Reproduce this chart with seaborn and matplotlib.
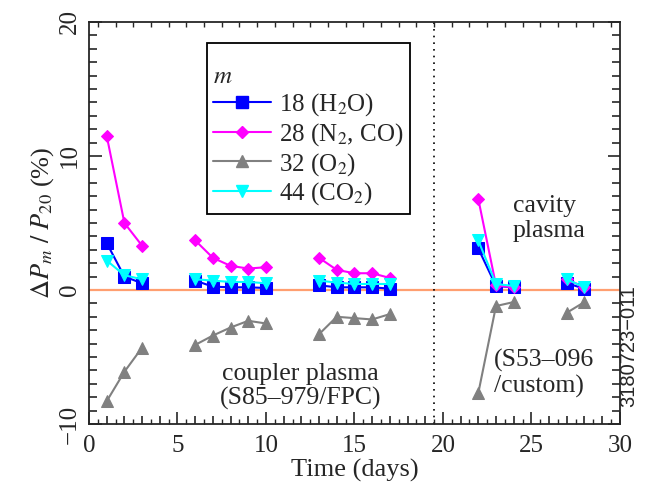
import pandas as pd
import numpy as np
import matplotlib.pyplot as plt
import seaborn as sb
from matplotlib.ticker import MultipleLocator, FixedLocator

# Days of each measurement, grouped into the plasma runs
days = [1, 2, 3, 6, 7, 8, 9, 10, 13, 14, 15, 16, 17, 22, 23, 24, 27, 28]
run = [1, 1, 1, 2, 2, 2, 2, 2, 3, 3, 3, 3, 3, 4, 4, 4, 5, 5]

# Relative pressure change (%) for each mass
h2o = [3.5, 1.0, 0.5, 0.7, 0.25, 0.2, 0.2, 0.15, 0.35, 0.2, 0.2, 0.2, 0.1, 3.1, 0.3, 0.2, 0.5, 0.1]
n2co = [11.5, 5.0, 3.3, 3.7, 2.4, 1.8, 1.6, 1.7, 2.4, 1.5, 1.25, 1.25, 0.9, 6.8, 0.35, 0.2, 0.8, 0.2]
o2 = [-8.3, -6.1, -4.3, -4.1, -3.4, -2.8, -2.3, -2.5, -3.3, -2.0, -2.1, -2.2, -1.8, -7.7, -1.2, -0.9, -1.7, -0.9]
co2 = [2.2, 1.1, 0.8, 0.8, 0.7, 0.6, 0.6, 0.5, 0.7, 0.55, 0.45, 0.45, 0.45, 3.7, 0.45, 0.3, 0.8, 0.2]

labels = ['18 (H$_2$O)', '28 (N$_2$, CO)', '32 (O$_2$)', '44 (CO$_2$)']
clrs = ['#0000ff', '#ff00ff', '#808080', '#00ffff']
mkrs = ['s', 'D', '^', 'v']
msizes = [8, 6, 8, 8]

df = pd.concat([pd.DataFrame({'day': days, 'run': run, 'val': v, 'gas': lab})
                for v, lab in zip([h2o, n2co, o2, co2], labels)])

sb.set_theme(style='ticks')
plt.rcParams['font.family'] = ['Liberation Serif', 'DejaVu Serif']
plt.rcParams['mathtext.fontset'] = 'stix'

fig = plt.figure(figsize=(6.47, 4.91), dpi=100)
ax = fig.add_axes([0.1376, 0.1365, 0.8204, 0.8187])

ax.axhline(0, color='#ff9f70', lw=1.6, zorder=1)
ax.axvline(19.5, color='black', lw=1.2, ls=(0, (1, 3)), zorder=1)

# one line per gas and run
for lab, c, mk, ms in zip(labels, clrs, mkrs, msizes):
    sub = df[df.gas == lab]
    for r, seg in sub.groupby('run'):
        sb.lineplot(data=seg, x='day', y='val', color=c, marker=mk, markersize=ms,
                    markeredgecolor=c, lw=1.5, ax=ax, legend=False, zorder=3)

handles = [plt.Line2D([], [], color=c, marker=mk, markersize=ms, lw=1.5)
           for c, mk, ms in zip(clrs, mkrs, msizes)]
leg = ax.legend(handles, labels, title=' \n$m$', loc='upper left', bbox_to_anchor=(0.222, 0.948),
                frameon=True, fancybox=False, edgecolor='black', framealpha=1,
                handlelength=2.3, fontsize=18, title_fontsize=18, borderpad=0.25,
                labelspacing=0.12, handletextpad=0.35, borderaxespad=0, alignment='left')
leg.get_title().set_linespacing(0.7)
leg.get_frame().set_linewidth(1.3)

ax.set_xlim(0, 30)
ax.set_ylim(-10, 20)
ax.xaxis.set_major_locator(MultipleLocator(5))
ax.xaxis.set_minor_locator(MultipleLocator(1))
ax.yaxis.set_major_locator(MultipleLocator(10))
ax.yaxis.set_minor_locator(MultipleLocator(1))
ax.tick_params(which='both', direction='in', top=True, right=True, width=1.2, labelsize=18)
ax.tick_params(axis='x', pad=8)
ax.tick_params(axis='y', pad=6)
ax.tick_params(which='major', length=9)
ax.tick_params(which='minor', length=6)
for t in ax.get_yticklabels():
    t.set_rotation(90)
    t.set_va('center')
for s in ax.spines.values():
    s.set_linewidth(1.3)

# half-day ticks, shorter
ax2 = ax.twiny()
ax2.set_xlim(0, 30)
ax2.xaxis.set_major_locator(FixedLocator(np.arange(0.5, 30, 1)))
ax2.tick_params(direction='in', bottom=True, top=True, labelbottom=False, labeltop=False,
                length=3.5, width=1.0)
for s in ax2.spines.values():
    s.set_visible(False)

ax.set_xlabel('Time (days)', fontsize=19, labelpad=1)
ax.set_ylabel(r'$\Delta P_m\ /\ P_{20}$ (%)', fontsize=19, labelpad=2)

ax.text(11.95, -7.2, 'coupler plasma\n(S85–979/FPC)', ha='center', va='center', fontsize=18.5,
        linespacing=1.15)
ax.text(23.95, 5.34, 'cavity\nplasma', ha='left', va='center', fontsize=18.5, linespacing=1.15)
ax.text(22.9, -6.23, '(S53–096\n/custom)', ha='left', va='center', fontsize=18.5,
        linespacing=1.15)
fig.text(0.971, 0.295, '3180723−011', rotation=90, ha='center', va='center', fontsize=14.5,
         family='Liberation Sans')

fig.savefig('out.png', dpi=100)
